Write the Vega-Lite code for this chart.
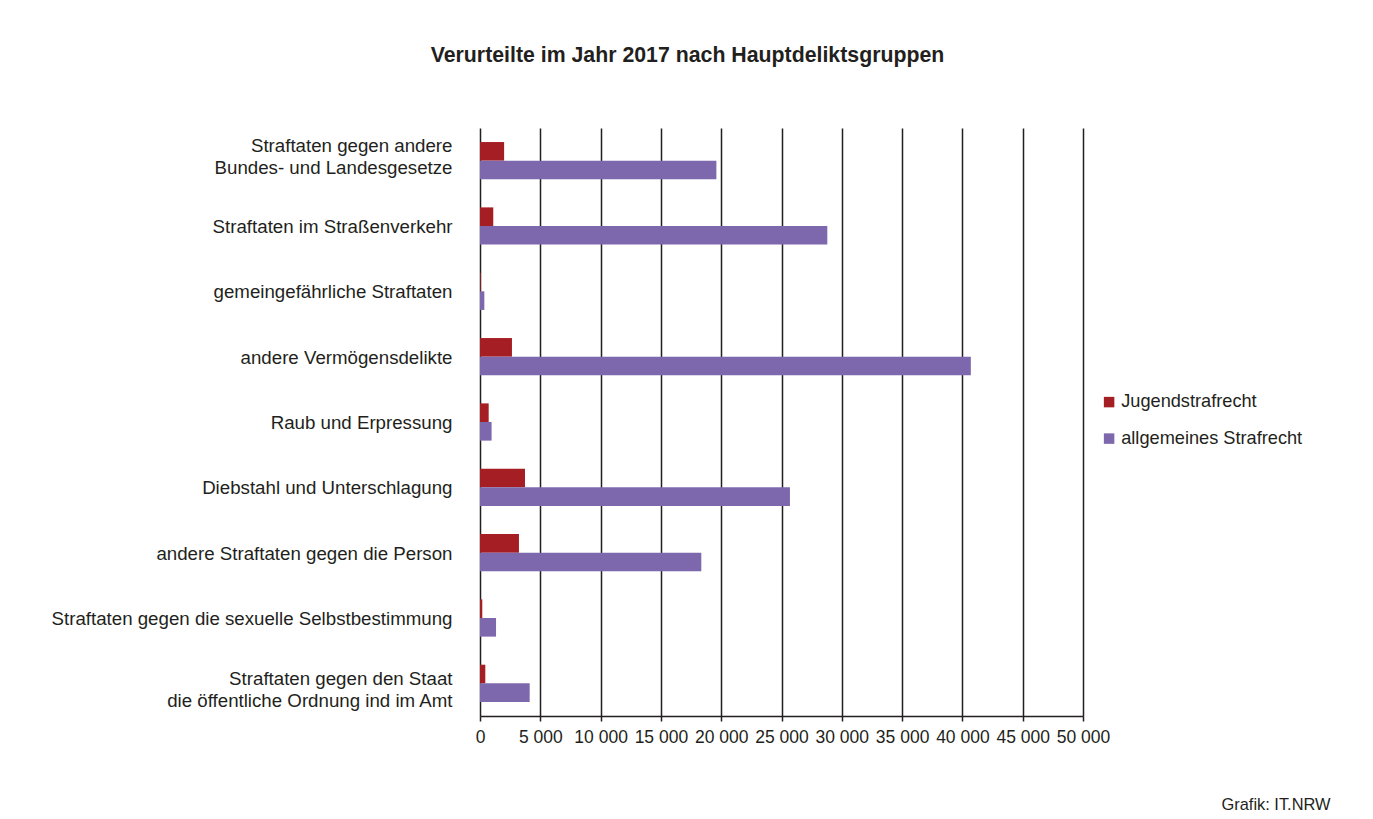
{
  "$schema": "https://vega.github.io/schema/vega-lite/v6.json",
  "autosize": {"type": "none"},
  "width": 603,
  "height": 588,
  "padding": {"left": 480, "top": 128, "right": 290, "bottom": 103},
  "background": "white",
  "config": {
    "font": "Liberation Sans",
    "view": {"stroke": null},
    "locale": {"number": {"decimal": ",", "thousands": " ", "grouping": [3], "currency": ["", " €"]}}
  },
  "title": {
    "text": "Verurteilte im Jahr 2017 nach Hauptdeliktsgruppen",
    "font": "Liberation Sans",
    "fontSize": 21.3,
    "fontWeight": "bold",
    "color": "#231f20",
    "anchor": "middle",
    "dx": -94,
    "offset": 62
  },
  "data": {
    "values": [
      {"gruppe": "Straftaten gegen andere|Bundes- und Landesgesetze", "recht": "Jugendstrafrecht", "anzahl": 2000},
      {"gruppe": "Straftaten gegen andere|Bundes- und Landesgesetze", "recht": "allgemeines Strafrecht", "anzahl": 19600},
      {"gruppe": "Straftaten im Straßenverkehr", "recht": "Jugendstrafrecht", "anzahl": 1100},
      {"gruppe": "Straftaten im Straßenverkehr", "recht": "allgemeines Strafrecht", "anzahl": 28800},
      {"gruppe": "gemeingefährliche Straftaten", "recht": "Jugendstrafrecht", "anzahl": 60},
      {"gruppe": "gemeingefährliche Straftaten", "recht": "allgemeines Strafrecht", "anzahl": 360},
      {"gruppe": "andere Vermögensdelikte", "recht": "Jugendstrafrecht", "anzahl": 2650},
      {"gruppe": "andere Vermögensdelikte", "recht": "allgemeines Strafrecht", "anzahl": 40700},
      {"gruppe": "Raub und Erpressung", "recht": "Jugendstrafrecht", "anzahl": 720},
      {"gruppe": "Raub und Erpressung", "recht": "allgemeines Strafrecht", "anzahl": 960},
      {"gruppe": "Diebstahl und Unterschlagung", "recht": "Jugendstrafrecht", "anzahl": 3730},
      {"gruppe": "Diebstahl und Unterschlagung", "recht": "allgemeines Strafrecht", "anzahl": 25700},
      {"gruppe": "andere Straftaten gegen die Person", "recht": "Jugendstrafrecht", "anzahl": 3230},
      {"gruppe": "andere Straftaten gegen die Person", "recht": "allgemeines Strafrecht", "anzahl": 18350},
      {"gruppe": "Straftaten gegen die sexuelle Selbstbestimmung", "recht": "Jugendstrafrecht", "anzahl": 190},
      {"gruppe": "Straftaten gegen die sexuelle Selbstbestimmung", "recht": "allgemeines Strafrecht", "anzahl": 1330},
      {"gruppe": "Straftaten gegen den Staat|die öffentliche Ordnung ind im Amt", "recht": "Jugendstrafrecht", "anzahl": 440},
      {"gruppe": "Straftaten gegen den Staat|die öffentliche Ordnung ind im Amt", "recht": "allgemeines Strafrecht", "anzahl": 4120}
    ]
  },
  "mark": {"type": "bar"},
  "encoding": {
    "y": {
      "field": "gruppe",
      "type": "nominal",
      "sort": null,
      "scale": {"paddingInner": 0.43, "paddingOuter": 0.215},
      "axis": {
        "title": null,
        "domain": false,
        "ticks": false,
        "tickSize": 0,
        "labelPadding": 28,
        "labelFontSize": 18.7,
        "labelColor": "#231f20",
        "labelLineHeight": 22,
        "labelLimit": 0,
        "labelOffset": {
          "condition": [
            {"test": "indexof(datum.value, 'Bundes') >= 0", "value": -15},
            {"test": "indexof(datum.value, 'Staat') >= 0", "value": -4}
          ],
          "value": 1
        },
        "labelExpr": "split(datum.label, '|')"
      }
    },
    "yOffset": {
      "field": "recht",
      "type": "nominal",
      "sort": ["Jugendstrafrecht", "allgemeines Strafrecht"],
      "scale": {"paddingInner": 0, "paddingOuter": 0}
    },
    "x": {
      "field": "anzahl",
      "type": "quantitative",
      "scale": {"domain": [0, 50000], "nice": false},
      "axis": {
        "values": [0, 5000, 10000, 15000, 20000, 25000, 30000, 35000, 40000, 45000, 50000],
        "format": ",d",
        "grid": true,
        "gridColor": "#231f20",
        "gridWidth": 1.5,
        "gridOpacity": 1,
        "domainColor": "#231f20",
        "domainWidth": 1.5,
        "tickColor": "#231f20",
        "tickWidth": 1.5,
        "tickSize": 5,
        "labelPadding": 7,
        "labelFontSize": 17.5,
        "labelColor": "#231f20",
        "labelFlush": false,
        "title": "Grafik: IT.NRW",
        "titleFontSize": 16.4,
        "titleFontWeight": "normal",
        "titleColor": "#231f20",
        "titleAnchor": "end",
        "titleAlign": "right",
        "titleBaseline": "alphabetic",
        "titleX": 850,
        "titleY": 93
      }
    },
    "color": {
      "field": "recht",
      "type": "nominal",
      "sort": ["Jugendstrafrecht", "allgemeines Strafrecht"],
      "scale": {"domain": ["Jugendstrafrecht", "allgemeines Strafrecht"], "range": ["#a51e24", "#7e68ad"]},
      "legend": {
        "title": null,
        "orient": "none",
        "legendX": 620,
        "legendY": 265,
        "symbolType": "square",
        "symbolSize": 110,
        "symbolStrokeWidth": 0,
        "labelFontSize": 18.2,
        "labelColor": "#231f20",
        "labelLimit": 0,
        "labelOffset": 3,
        "rowPadding": 17.5,
        "symbolOpacity": 1
      }
    }
  }
}
